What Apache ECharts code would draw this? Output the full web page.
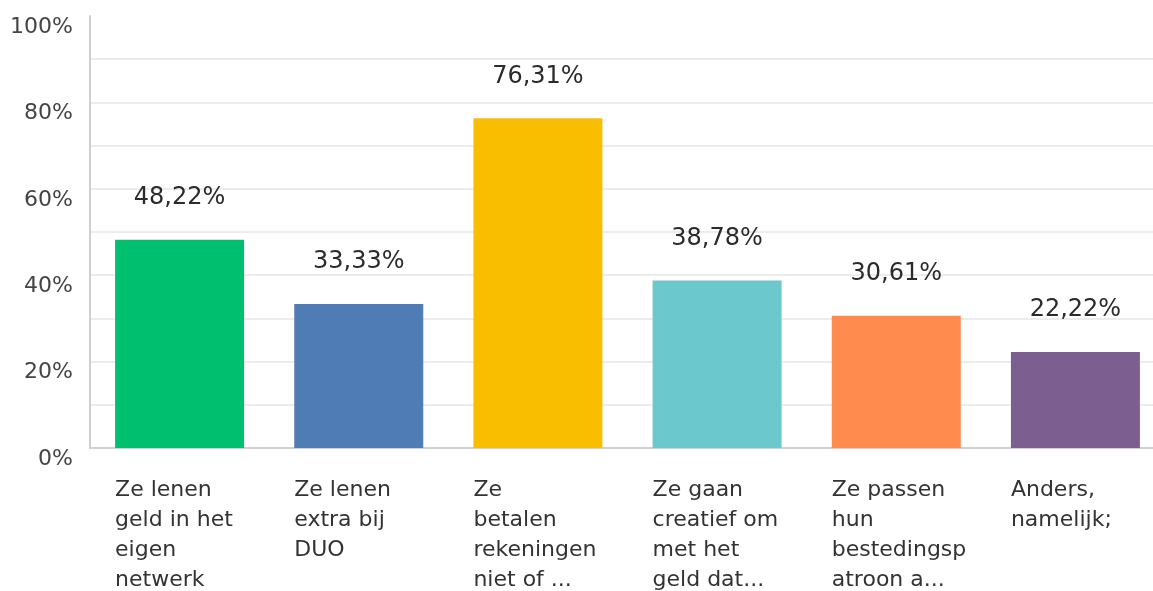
<!DOCTYPE html>
<html>
<head>
<meta charset="utf-8">
<script src="https://cdn.jsdelivr.net/npm/echarts@6/dist/echarts.min.js"></script>
<style>
  html, body { margin: 0; padding: 0; background: #fff; }
  #chart { width: 1153px; height: 591px; }
</style>
</head>
<body>
<div id="chart"></div>
<script>
var categories = [
  'Ze lenen\ngeld in het\neigen\nnetwerk',
  'Ze lenen\nextra bij\nDUO',
  'Ze\nbetalen\nrekeningen\nniet of ...',
  'Ze gaan\ncreatief om\nmet het\ngeld dat...',
  'Ze passen\nhun\nbestedingsp\natroon a...',
  'Anders,\nnamelijk;'
];
var percentages = [48.22, 33.33, 76.31, 38.78, 30.61, 22.22];
var barColors = ['#00BF6F', '#507CB6', '#F9BE00', '#6BC8CD', '#FF8B4F', '#7D5E90'];
var yTicks = [0, 20, 40, 60, 80, 100];

var chart = echarts.init(document.getElementById('chart'));
var FONT = '"DejaVu Sans", sans-serif';

var option = {
  backgroundColor: '#fff',
  animation: false,
  grid: {
    left: 90,
    width: 1075,
    top: 16,
    height: 432,
    outerBoundsMode: 'none'
  },
  xAxis: {
    type: 'category',
    data: categories,
    axisTick: { show: false },
    axisLine: { lineStyle: { color: '#d0d0d0', width: 2 } },
    axisLabel: {
      interval: 0,
      margin: 27,
      formatter: function(v){
        return '{a|' + v + '}'
      },
      rich: {
        a: {
          width: 129,
          align: 'left',
          fontSize: 22,
          lineHeight: 30,
          color: '#333',
          fontFamily: FONT
        }
      }
    }
  },
  yAxis: {
    type: 'value',
    min: 0,
    max: 100,
    interval: 10,
    axisLine: { show: true, lineStyle: { color: '#d0d0d0', width: 2 } },
    axisTick: { show: false },
    splitLine: { showMaxLine: false, lineStyle: { color: '#ececec', width: 2 } },
    axisLabel: {
      margin: 17,
      verticalAlign: 'top',
      fontSize: 22,
      color: '#444',
      fontFamily: FONT,
      formatter: function(v){
        return yTicks.indexOf(v) >= 0 ? v + '%' : ''
      }
    }
  },
  series: [{
    type: 'bar',
    barWidth: 129,
    data: percentages.map(function(v, i){
      return { value: v, itemStyle: { color: barColors[i] } }
    }),
    label: {
      show: true,
      position: 'top',
      distance: 30,
      fontSize: 24,
      color: '#2b2b2b',
      fontFamily: FONT,
      formatter: function(p){
        return p.value.toFixed(2).replace('.', ',') + '%'
      }
    }
  }]
};

chart.setOption(option);
</script>
</body>
</html>
